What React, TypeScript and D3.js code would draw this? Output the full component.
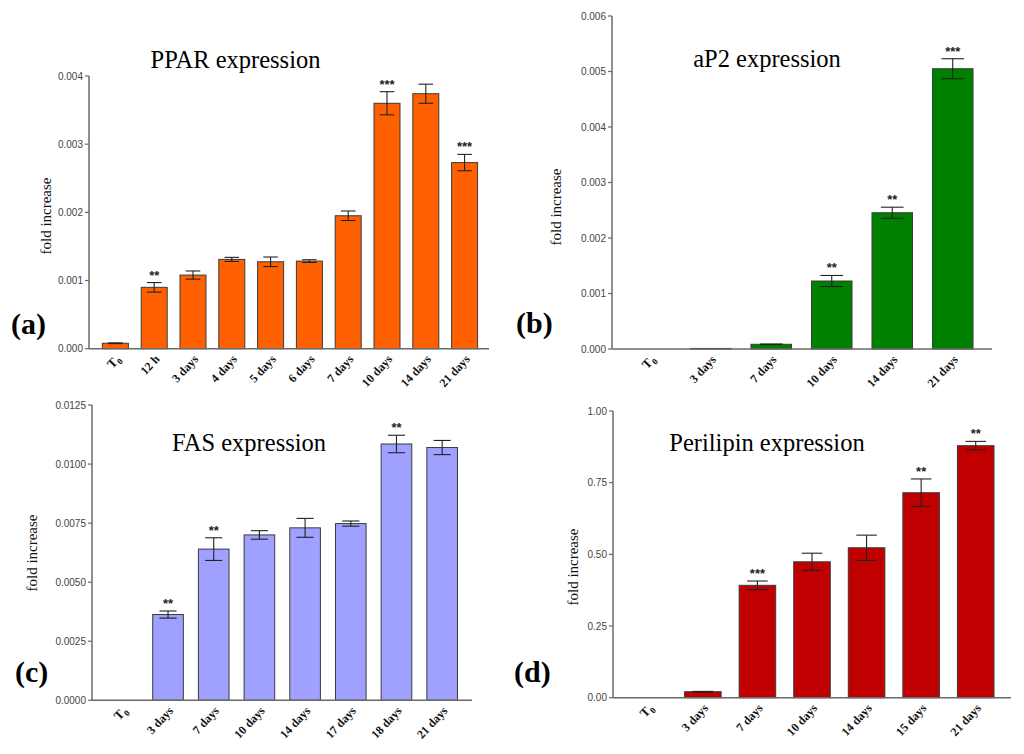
import React from "react";
import * as d3 from "d3";

// ---- data ----
const pparCategories = ["T0", "12 h", "3 days", "4 days", "5 days", "6 days", "7 days", "10 days", "14 days", "21 days"];
const pparValues = [0.00008, 0.0009, 0.00108, 0.00131, 0.001275, 0.001285, 0.00195, 0.0036, 0.00374, 0.00273];
const pparErrors = [0.000005, 0.00007, 0.00006, 0.00003, 0.00007, 0.00002, 0.00007, 0.00017, 0.00014, 0.00012];
const pparStars = ["", "**", "", "", "", "", "", "***", "", "***"];
const pparTicks = [0, 0.001, 0.002, 0.003, 0.004];

const ap2Categories = ["T0", "3 days", "7 days", "10 days", "14 days", "21 days"];
const ap2Values = [0, 0.00001, 0.000085, 0.001225, 0.002455, 0.00505];
const ap2Errors = [0, 0, 0.000005, 0.0001, 0.0001, 0.00018];
const ap2Stars = ["", "", "", "**", "**", "***"];
const ap2Ticks = [0, 0.001, 0.002, 0.003, 0.004, 0.005, 0.006];

const fasCategories = ["T0", "3 days", "7 days", "10 days", "14 days", "17 days", "18 days", "21 days"];
const fasValues = [0, 0.00363, 0.0064, 0.007, 0.0073, 0.00748, 0.01085, 0.0107];
const fasErrors = [0, 0.00015, 0.00048, 0.00018, 0.0004, 0.00011, 0.00037, 0.0003];
const fasStars = ["", "**", "**", "", "", "", "**", ""];
const fasTicks = [0, 0.0025, 0.005, 0.0075, 0.01, 0.0125];

const perCategories = ["T0", "3 days", "7 days", "10 days", "14 days", "15 days", "21 days"];
const perValues = [0, 0.021, 0.392, 0.474, 0.523, 0.715, 0.879];
const perErrors = [0, 0.001, 0.015, 0.03, 0.044, 0.048, 0.015];
const perStars = ["", "", "***", "", "", "**", "**"];
const perTicks = [0, 0.25, 0.5, 0.75, 1.0];

interface PanelProps {
  categories: string[];
  values: number[];
  errors: number[];
  stars: string[];
  ticks: number[];
  fmt: string;
  color: string;
  title: string;
  letter: string;
  axisX: number;
  axisEnd: number;
  yTop: number;
  yBottom: number;
  band: [number, number];
  titlePos: [number, number];
  letterPos: [number, number];
  labelPos: [number, number];
}

const serif = "'Liberation Serif', 'DejaVu Serif', serif";
const sans = "'Liberation Sans', Arial, sans-serif";

const Panel: React.FC<PanelProps> = (p) => {
  const yMax = p.ticks[p.ticks.length - 1];
  const y = d3.scaleLinear().domain([0, yMax]).range([p.yBottom, p.yTop]);
  const x = d3.scaleBand<string>().domain(p.categories).range(p.band).paddingInner(0.33).paddingOuter(0.165);
  const bw = x.bandwidth();
  const format = d3.format(p.fmt);

  return (
    <g>
      {/* bars */}
      {p.categories.map((c, i) => {
        const v = p.values[i];
        if (v <= 0) return null;
        const x0 = x(c)!;
        const top = y(v);
        const e = p.errors[i];
        const cx = x0 + bw / 2;
        const cap = bw * 0.28;
        return (
          <g key={c}>
            <rect x={x0} y={top} width={bw} height={p.yBottom - top} fill={p.color} stroke="#3a3a3a" strokeWidth={1} />
            {e > 0 && (
              <g stroke="#222" strokeWidth={1.1}>
                <line x1={cx} x2={cx} y1={y(v + e)} y2={y(v - e)} />
                <line x1={cx - cap} x2={cx + cap} y1={y(v + e)} y2={y(v + e)} />
                <line x1={cx - cap} x2={cx + cap} y1={y(v - e)} y2={y(v - e)} />
              </g>
            )}
            {p.stars[i] && (
              <text x={cx} y={y(v + e) - 3} textAnchor="middle" fontFamily={sans} fontWeight="bold" fontSize={13} fill="#222">
                {p.stars[i]}
              </text>
            )}
          </g>
        );
      })}

      {/* y axis */}
      <line x1={p.axisX} x2={p.axisX} y1={p.yTop} y2={p.yBottom} stroke="#6a6a6a" strokeWidth={1.5} />
      {p.ticks.map((t) => (
        <g key={t} transform={`translate(${p.axisX},${y(t)})`}>
          <line x1={-4} x2={0} stroke="#6a6a6a" strokeWidth={1.2} />
          <text x={-6} dy="0.35em" textAnchor="end" fontFamily={sans} fontSize={10} fill="#444">
            {format(t)}
          </text>
        </g>
      ))}
      {/* x axis */}
      <line x1={p.axisX} x2={p.axisEnd} y1={p.yBottom} y2={p.yBottom} stroke="#6a6a6a" strokeWidth={1.5} />
      {p.categories.map((c) => {
        const cx = x(c)! + bw / 2;
        return (
          <text
            key={c}
            transform={`translate(${cx + 6},${p.yBottom + 11}) rotate(-47)`}
            textAnchor="end"
            fontFamily={serif}
            fontWeight="bold"
            fontSize={12}
            fill="#111"
          >
            {c === "T0" ? (
              <>
                <tspan fontSize={13}>T</tspan>
                <tspan fontSize={9} dy={3}>0</tspan>
              </>
            ) : (
              c
            )}
          </text>
        );
      })}

      {/* labels */}
      <text x={p.titlePos[0]} y={p.titlePos[1]} textAnchor="middle" fontFamily={serif} fontSize={24.5} fill="#000">
        {p.title}
      </text>
      <text x={p.letterPos[0]} y={p.letterPos[1]} fontFamily={serif} fontWeight="bold" fontSize={30} fill="#000">
        {p.letter}
      </text>
      <text
        transform={`translate(${p.labelPos[0]},${p.labelPos[1]}) rotate(-90)`}
        textAnchor="middle"
        fontFamily={serif}
        fontSize={15}
        fill="#111"
      >
        fold increase
      </text>
    </g>
  );
};

export default function App() {
  return (
    <div style={{ position: "absolute", left: 0, top: 0 }}>
      <svg width={1024} height={754} style={{ display: "block", background: "#fff" }}>
        <Panel
          categories={pparCategories}
          values={pparValues}
          errors={pparErrors}
          stars={pparStars}
          ticks={pparTicks}
          fmt=".3f"
          color="#ff6000"
          title="PPAR expression"
          letter="(a)"
          axisX={89}
          axisEnd={489}
          yTop={76}
          yBottom={348.7}
          band={[96, 484]}
          titlePos={[235.5, 68]}
          letterPos={[11, 334]}
          labelPos={[51, 216]}
        />
        <Panel
          categories={ap2Categories}
          values={ap2Values}
          errors={ap2Errors}
          stars={ap2Stars}
          ticks={ap2Ticks}
          fmt=".3f"
          color="#008000"
          title="aP2 expression"
          letter="(b)"
          axisX={612}
          axisEnd={992}
          yTop={16}
          yBottom={349}
          band={[620, 983]}
          titlePos={[767, 67]}
          letterPos={[516, 333]}
          labelPos={[561, 207]}
        />
        <Panel
          categories={fasCategories}
          values={fasValues}
          errors={fasErrors}
          stars={fasStars}
          ticks={fasTicks}
          fmt=".4f"
          color="#a0a0ff"
          title="FAS expression"
          letter="(c)"
          axisX={92}
          axisEnd={472}
          yTop={405}
          yBottom={700.3}
          band={[99.5, 465]}
          titlePos={[249, 451]}
          letterPos={[15, 682]}
          labelPos={[37, 553]}
        />
        <Panel
          categories={perCategories}
          values={perValues}
          errors={perErrors}
          stars={perStars}
          ticks={perTicks}
          fmt=".2f"
          color="#c00000"
          title="Perilipin expression"
          letter="(d)"
          axisX={613}
          axisEnd={1011}
          yTop={411}
          yBottom={697.7}
          band={[621, 1003]}
          titlePos={[767, 451]}
          letterPos={[514, 682]}
          labelPos={[578, 567]}
        />
      </svg>
    </div>
  );
}
